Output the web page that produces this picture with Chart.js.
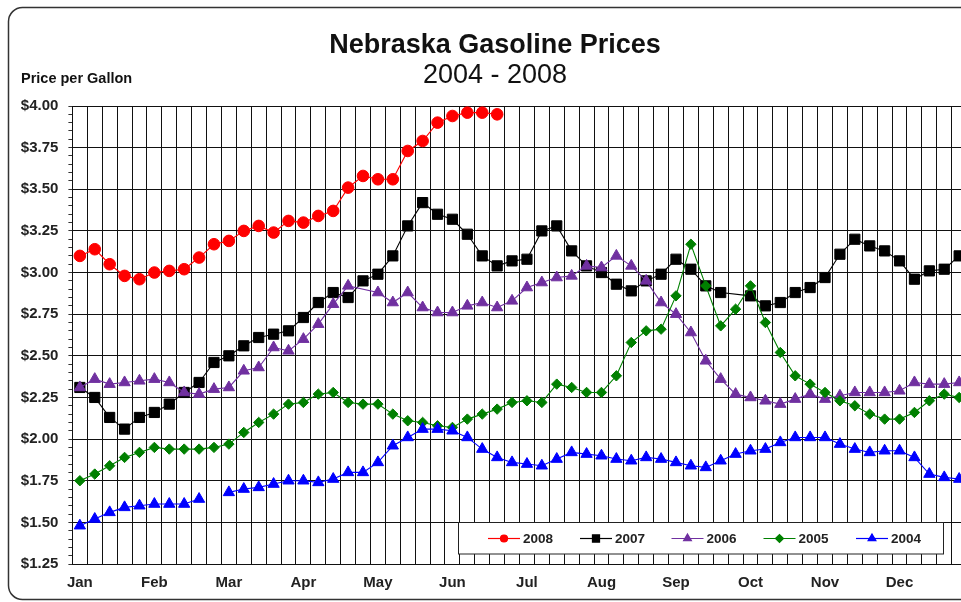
<!DOCTYPE html>
<html><head><meta charset="utf-8">
<script src="https://cdn.jsdelivr.net/npm/chart.js@4.4.1/dist/chart.umd.min.js"></script>
<style>
html,body{margin:0;padding:0;overflow:hidden;background:#fff;width:961px;height:602px}
canvas{display:block}
</style></head>
<body><canvas id="c" width="980" height="602"></canvas>
<script>
// ---- data ----
const months = ['Jan','Feb','Mar','Apr','May','Jun','Jul','Aug','Sep','Oct','Nov','Dec'];
const pointsPerMonth = 5;
const seriesNames = ['2008','2007','2006','2005','2004'];
const yTickLabels = ['$1.25','$1.50','$1.75','$2.00','$2.25','$2.50','$2.75','$3.00','$3.25','$3.50','$3.75','$4.00'];

const p2008 = [3.10,3.14,3.05,2.98,2.96,3.00,3.01,3.02,3.09,3.17,3.19,3.25,3.28,3.24,3.31,3.30,3.34,3.37,3.51,3.58,
  3.56,3.56,3.73,3.79,3.90,3.94,3.96,3.96,3.95];
const p2007 = [2.31,2.25,2.13,2.06,2.13,2.16,2.21,2.28,2.34,2.46,2.50,2.56,2.61,2.63,2.65,2.73,2.82,2.88,2.85,2.95,
  2.99,3.10,3.28,3.42,3.35,3.32,3.23,3.10,3.04,3.07,3.08,3.25,3.28,3.13,3.04,3.00,2.93,2.89,2.95,2.99,
  3.08,3.02,2.92,2.88,null,2.86,2.80,2.82,2.88,2.91,2.97,3.11,3.20,3.16,3.13,3.07,2.96,3.01,3.02,3.10];
const p2006 = [2.31,2.36,2.33,2.34,2.35,2.36,2.34,2.28,2.27,2.30,2.31,2.41,2.43,2.55,2.53,2.60,2.69,2.81,2.92,null,
  2.88,2.82,2.88,2.79,2.76,2.76,2.80,2.82,2.79,2.83,2.91,2.94,2.97,2.98,3.04,3.03,3.10,3.04,2.95,2.82,
  2.75,2.64,2.47,2.36,2.27,2.25,2.23,2.21,2.24,2.27,2.24,2.26,2.28,2.28,2.28,2.29,2.34,2.33,2.33,2.34];
const p2005 = [1.75,1.79,1.84,1.89,1.92,1.95,1.94,1.94,1.94,1.95,1.97,2.04,2.10,2.15,2.21,2.22,2.27,2.28,2.22,2.21,
  2.21,2.15,2.11,2.10,2.08,2.07,2.12,2.15,2.18,2.22,2.23,2.22,2.33,2.31,2.28,2.28,2.38,2.58,2.65,2.66,
  2.86,3.17,2.92,2.68,2.78,2.92,2.70,2.52,2.38,2.33,2.28,2.23,2.20,2.15,2.12,2.12,2.16,2.23,2.27,2.25];
const p2004 = [1.48,1.52,1.56,1.59,1.60,1.61,1.61,1.61,1.64,null,1.68,1.70,1.71,1.73,1.75,1.75,1.74,1.76,1.80,1.80,
  1.86,1.96,2.01,2.06,2.06,2.05,2.01,1.94,1.89,1.86,1.85,1.84,1.88,1.92,1.91,1.90,1.88,1.87,1.89,1.88,
  1.86,1.84,1.83,1.87,1.91,1.93,1.94,1.98,2.01,2.01,2.01,1.97,1.94,1.92,1.93,1.93,1.89,1.79,1.77,1.76];

const categories = [];
months.forEach(m => { for (let k = 0; k < pointsPerMonth; k++) categories.push(k === 0 ? m : ''); });

const FONT = "'Liberation Sans', Arial, sans-serif";
const styles = {
  '2008': {color:'#ff0000', point:'circle',   r:5.8, lr:3.5},
  '2007': {color:'#000000', point:'rect',     r:7.2, lr:5},
  '2006': {color:'#7030a0', point:'triangle', r:6.5, lr:4.5},
  '2005': {color:'#008000', point:'rectRot',  r:5.2, lr:4},
  '2004': {color:'#0000ff', point:'triangle', r:6.5, lr:4.5}
};
const values = {'2008':p2008,'2007':p2007,'2006':p2006,'2005':p2005,'2004':p2004};

const datasets = seriesNames.map((n, i) => ({
  label: n,
  data: values[n],
  borderColor: styles[n].color,
  backgroundColor: styles[n].color,
  pointBackgroundColor: styles[n].color,
  pointBorderColor: styles[n].color,
  pointStyle: styles[n].point,
  pointRadius: styles[n].r,
  pointBorderWidth: 1,
  borderWidth: 1.1,
  tension: 0,
  spanGaps: (n === '2007' || n === '2006'),
  order: seriesNames.length - 1 - i
}));

const isMajor = v => Math.round(v * 100) % 25 === 0;

const framePlugin = {
  id: 'frame',
  beforeDraw(chart) {
    const ctx = chart.ctx;
    ctx.save();
    ctx.fillStyle = '#fff';
    ctx.fillRect(0, 0, chart.width, chart.height);
    ctx.strokeStyle = '#333';
    ctx.lineWidth = 1.5;
    ctx.beginPath();
    ctx.roundRect(8.5, 7.5, 1000, 592, 14);
    ctx.stroke();
    // titles
    ctx.fillStyle = '#111';
    ctx.textAlign = 'center';
    ctx.textBaseline = 'middle';
    ctx.font = 'bold 27px ' + FONT;
    ctx.fillText('Nebraska Gasoline Prices', 495, 46);
    ctx.font = '27px ' + FONT;
    ctx.fillText('2004 - 2008', 495, 76);
    ctx.textAlign = 'left';
    ctx.font = 'bold 14.5px ' + FONT;
    ctx.fillText('Price per Gallon', 21, 79);
    ctx.restore();
  },
  afterDraw(chart) {
    const ctx = chart.ctx;
    ctx.save();
    const bx = 458.5, by = 522.5, bw = 485, bh = 31.5;
    ctx.fillStyle = '#fff';
    ctx.fillRect(bx, by, bw, bh);
    ctx.strokeStyle = '#222';
    ctx.lineWidth = 1;
    ctx.strokeRect(bx, by, bw, bh);
    const starts = [488, 580, 671.5, 763.5, 856];
    const cy = 538.5;
    seriesNames.forEach((n, i) => {
      const st = styles[n];
      const x0 = starts[i];
      ctx.strokeStyle = st.color;
      ctx.lineWidth = 1.2;
      ctx.beginPath();
      ctx.moveTo(x0, cy);
      ctx.lineTo(x0 + 32, cy);
      ctx.stroke();
      ctx.fillStyle = st.color;
      Chart.helpers.drawPoint(ctx, {pointStyle: st.point, radius: st.lr, rotation: 0, borderWidth: 1}, x0 + 16, cy);
      ctx.fill();
      ctx.fillStyle = '#222';
      ctx.font = 'bold 13.5px ' + FONT;
      ctx.textAlign = 'left';
      ctx.textBaseline = 'middle';
      ctx.fillText(n, x0 + 35, cy + 0.5);
    });
    ctx.restore();
  }
};

new Chart(document.getElementById('c'), {
  type: 'line',
  data: { labels: categories, datasets },
  plugins: [framePlugin],
  options: {
    responsive: false,
    animation: false,
    layout: { padding: { left: 0, right: 13.4, top: 106, bottom: 0 } },
    plugins: { legend: { display: false }, tooltip: { enabled: false }, title: { display: false } },
    scales: {
      x: {
        type: 'category',
        offset: true,
        grid: { offset: true, color: '#111', lineWidth: 1, drawTicks: false },
        border: { color: '#111', width: 1 },
        ticks: { autoSkip: false, maxRotation: 0, minRotation: 0, color: '#222', padding: 10,
                 font: { family: FONT, size: 15, weight: 'bold' } },
        afterFit(s) { s.height = 38; }
      },
      y: {
        min: 1.25, max: 4.0,
        grid: {
          color: c => isMajor(c.tick.value) ? '#111' : 'rgba(0,0,0,0)',
          tickColor: '#333', tickLength: 4, lineWidth: 1
        },
        border: { color: '#111', width: 1 },
        ticks: {
          stepSize: 0.05, autoSkip: false, color: '#222', padding: 10,
          font: { family: FONT, size: 15, weight: 'bold' },
          callback: v => isMajor(v) ? yTickLabels[Math.round((v - 1.25) * 4)] : ''
        },
        afterFit(s) { s.width = 72.4; }
      }
    }
  }
});
</script>
</body></html>
